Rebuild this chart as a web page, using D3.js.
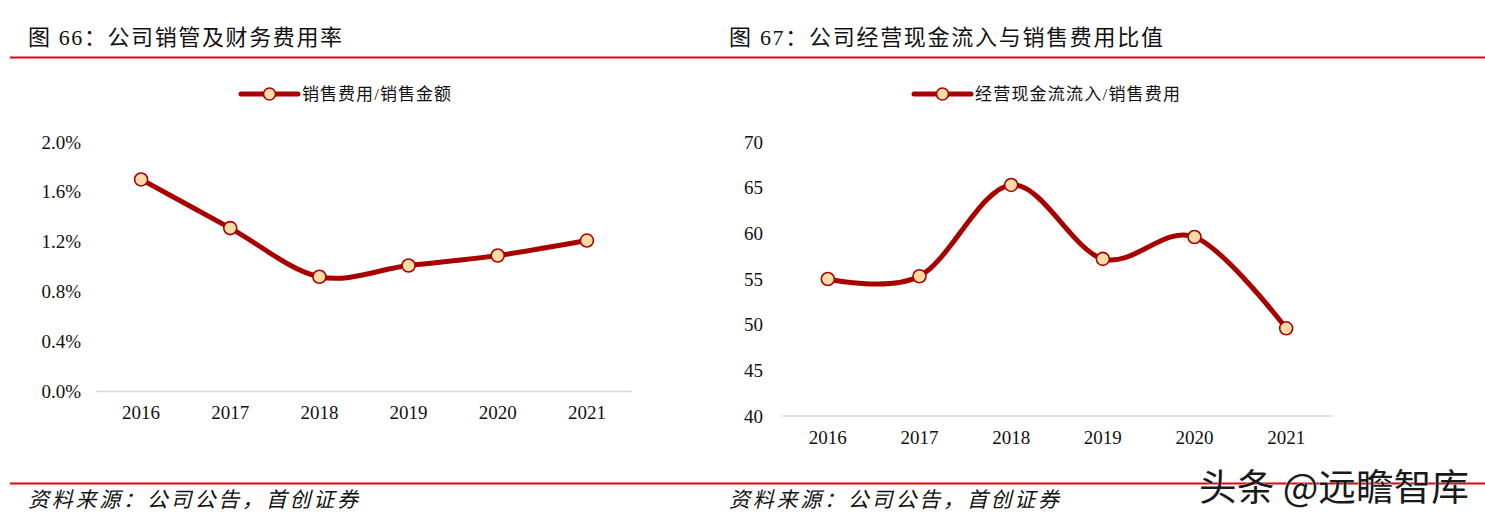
<!DOCTYPE html>
<html><head><meta charset="utf-8">
<script src="https://cdn.jsdelivr.net/npm/d3@7"></script>
<style>
body{margin:0;background:#fff;}
svg{display:block;}
</style></head>
<body>
<svg id="c" width="1485" height="521"></svg>
<script>
const years = ["2016","2017","2018","2019","2020","2021"];
const expenseRatio = [1.70, 1.31, 0.92, 1.01, 1.09, 1.21]; // %
const cashRatio = [55.0, 55.3, 65.3, 57.2, 59.6, 49.6];
const leftTicks = [0, 0.4, 0.8, 1.2, 1.6, 2.0];
const rightTicks = [40, 45, 50, 55, 60, 65, 70];
const titles = ["图 66：公司销管及财务费用率", "图 67：公司经营现金流入与销售费用比值"];
const legends = ["销售费用/销售金额", "经营现金流流入/销售费用"];
const source = "资料来源：公司公告，首创证券";

const svg = d3.select("#c");
const serif = "'Liberation Serif','Noto Sans CJK SC',serif";
const lineColor = "#A80000", markFill = "#F9DCA6";

// header & footer rules
svg.append("rect").attr("x",10).attr("y",56.5).attr("width",1475).attr("height",2).attr("fill","#E60012");
svg.append("rect").attr("x",10).attr("y",482.5).attr("width",1475).attr("height",2).attr("fill","#E60012");

function panel(cfg){
  const g = svg.append("g");
  g.append("text").attr("x",cfg.titleX).attr("y",45).attr("font-family",serif)
    .attr("font-size",22).attr("fill","#111").attr("textLength",cfg.titleW).attr("lengthAdjust","spacing")
    .text(cfg.title);
  g.append("text").attr("x",cfg.titleX).attr("y",507).attr("font-family",serif)
    .attr("font-size",21).attr("font-style","italic").attr("fill","#111")
    .attr("textLength",330).attr("lengthAdjust","spacing").text(source);

  const x = d3.scaleBand().domain(years).range(cfg.xr);
  const y = d3.scaleLinear().domain(cfg.yd).range(cfg.yr);

  // baseline
  g.append("line").attr("x1",cfg.xr[0]).attr("x2",cfg.xr[1]).attr("y1",cfg.yr[0]).attr("y2",cfg.yr[0])
    .attr("stroke","#D9D9D9").attr("stroke-width",1.5);

  // y axis labels
  const ya = d3.axisLeft(y).tickValues(cfg.ticks).tickSize(0).tickPadding(0).tickFormat(cfg.fmt);
  const yg = g.append("g").attr("transform",`translate(${cfg.yLabelX},0)`).call(ya);
  yg.select(".domain").remove();
  yg.selectAll("text").attr("font-family",serif).attr("font-size",19).attr("fill","#111");

  // x axis labels
  const xa = d3.axisBottom(x).tickSize(0).tickPadding(0);
  const xg = g.append("g").attr("transform",`translate(0,${cfg.xLabelY})`).call(xa);
  xg.select(".domain").remove();
  xg.selectAll("text").attr("font-family",serif).attr("font-size",19).attr("fill","#111");

  const cx = d => x(d) + x.bandwidth()/2;
  const line = d3.line().x((d,i)=>cx(years[i])).y(d=>y(d)).curve(d3.curveCardinal.tension(0));
  g.append("path").datum(cfg.values).attr("d",line).attr("fill","none")
    .attr("stroke",lineColor).attr("stroke-width",5).attr("stroke-linejoin","round").attr("stroke-linecap","round");
  g.selectAll("circle.pt").data(cfg.values).join("circle").attr("class","pt")
    .attr("cx",(d,i)=>cx(years[i])).attr("cy",d=>y(d)).attr("r",6.5)
    .attr("fill",markFill).attr("stroke",lineColor).attr("stroke-width",1.6);

  // legend
  const lg = g.append("g").attr("transform",`translate(${cfg.legX},94)`);
  lg.append("line").attr("x1",0).attr("x2",57).attr("y1",0).attr("y2",0)
    .attr("stroke",lineColor).attr("stroke-width",5).attr("stroke-linecap","round");
  lg.append("circle").attr("cx",28.5).attr("cy",0).attr("r",6).attr("fill",markFill)
    .attr("stroke",lineColor).attr("stroke-width",1.6);
  lg.append("text").attr("x",61).attr("y",6).attr("font-family",serif).attr("font-size",17)
    .attr("fill","#111").attr("textLength",cfg.legW).attr("lengthAdjust","spacing").text(cfg.legend);
}

panel({title:titles[0], titleX:28, titleW:314, legend:legends[0], legX:241, legW:149,
  xr:[96.5,631.5], yd:[0,2.0], yr:[391.5,142], ticks:leftTicks, fmt:d=>d.toFixed(1)+"%",
  yLabelX:81, xLabelY:405, values:expenseRatio});
panel({title:titles[1], titleX:729, titleW:434, legend:legends[1], legX:914, legW:205,
  xr:[782,1332], yd:[40,70], yr:[416,142], ticks:rightTicks, fmt:d=>String(d),
  yLabelX:763, xLabelY:430, values:cashRatio});

// watermark
svg.append("text").attr("x",1199).attr("y",501).attr("font-family","'Noto Sans CJK SC',sans-serif")
  .attr("font-size",37).attr("fill","#1a1a1a").attr("stroke","#fff").attr("stroke-width",0.6)
  .attr("paint-order","stroke").attr("textLength",270).attr("lengthAdjust","spacingAndGlyphs")
  .text("头条 @远瞻智库");
</script>
</body></html>
